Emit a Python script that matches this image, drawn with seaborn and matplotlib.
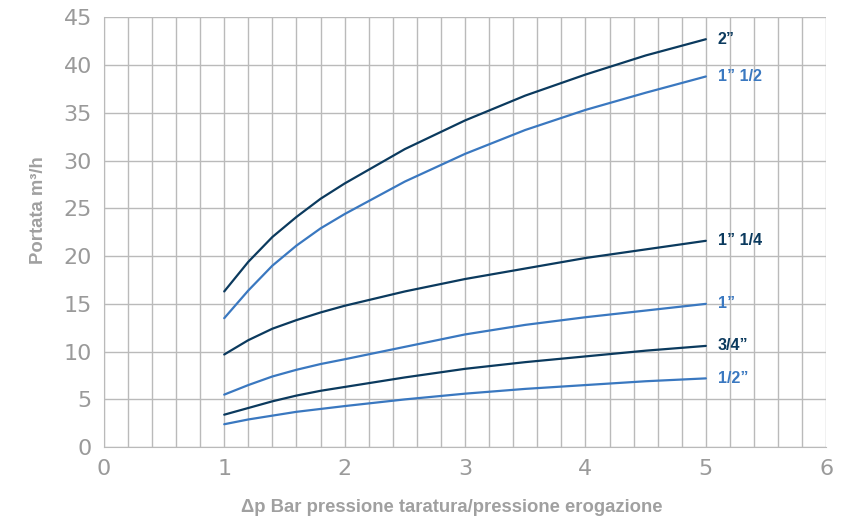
import matplotlib
matplotlib.use("Agg")
import matplotlib.pyplot as plt
import seaborn as sns
import pandas as pd

# pressure values (bar)
dp = [1.0, 1.2, 1.4, 1.6, 1.8, 2.0, 2.5, 3.0, 3.5, 4.0, 4.5, 5.0]

# flow rate m3/h for each pipe size
q_2 = [16.3, 19.4, 22.0, 24.1, 26.0, 27.6, 31.2, 34.2, 36.8, 39.0, 41.0, 42.7]
q_1_12 = [13.5, 16.4, 19.0, 21.1, 22.9, 24.4, 27.8, 30.7, 33.2, 35.3, 37.1, 38.8]
q_1_14 = [9.7, 11.2, 12.4, 13.3, 14.1, 14.8, 16.3, 17.6, 18.7, 19.8, 20.7, 21.6]
q_1 = [5.5, 6.5, 7.4, 8.1, 8.7, 9.2, 10.5, 11.8, 12.8, 13.6, 14.3, 15.0]
q_34 = [3.4, 4.1, 4.8, 5.4, 5.9, 6.3, 7.3, 8.2, 8.9, 9.5, 10.1, 10.6]
q_12 = [2.4, 2.9, 3.3, 3.7, 4.0, 4.3, 5.0, 5.6, 6.1, 6.5, 6.9, 7.2]

sizes = ["2\u201d", "1\u201d 1/2", "1\u201d 1/4", "1\u201d", "3/4\u201d", "1/2\u201d"]
series = [q_2, q_1_12, q_1_14, q_1, q_34, q_12]

dark = "#0b3a5e"
light = "#3a78c0"
colors = [dark, light, dark, light, dark, light]

rows = []
for name, vals in zip(sizes, series):
    for x, y in zip(dp, vals):
        rows.append({"dp": x, "q": y, "size": name})
df = pd.DataFrame(rows)

sns.set_style("white")
plt.rcParams["font.family"] = ["DejaVu Sans"]
label_font = ["Liberation Sans", "DejaVu Sans"]

fig = plt.figure(figsize=(8.58, 5.23), dpi=100)
ax = fig.add_axes([0.121, 0.145, 0.842, 0.822])

sns.lineplot(data=df, x="dp", y="q", hue="size", palette=dict(zip(sizes, colors)),
             linewidth=1.6, legend=False, ax=ax)

# labels at the end of each curve
for name, vals, c in zip(sizes, series, colors):
    ax.text(5.1, vals[-1], name, color=c, fontsize=11.5, fontweight="bold",
            family=label_font, va="center", ha="left")

ax.set_xlim(0, 6)
ax.set_ylim(0, 45)
ax.set_xticks(range(0, 7))
ax.set_yticks(range(0, 46, 5))
ax.set_xticks([i * 0.2 for i in range(31)], minor=True)

ax.grid(True, which="major", color="#bababa", linewidth=1.0)
ax.grid(True, which="minor", axis="x", color="#bababa", linewidth=1.0)
ax.set_axisbelow(True)

for s in ["top", "right"]:
    ax.spines[s].set_visible(False)
for s in ["left", "bottom"]:
    ax.spines[s].set_color("#bababa")

ax.tick_params(axis="both", which="major", colors="#bababa", labelsize=16,
               length=5, width=1, direction="out")
ax.tick_params(axis="x", which="minor", length=0)
ax.tick_params(axis="both", labelcolor="#9a9a9a")

ax.set_xlabel("\u0394p Bar pressione taratura/pressione erogazione", fontsize=13.3,
              fontweight="bold", color="#a0a0a0", family=label_font, va="center")
ax.set_ylabel("Portata m\u00b3/h", fontsize=13.3, fontweight="bold", color="#a0a0a0",
              family=label_font, va="center")
ax.xaxis.set_label_coords(0.482, -0.14)
ax.yaxis.set_label_coords(-0.091, 0.551)

fig.savefig("out.png", dpi=100)
